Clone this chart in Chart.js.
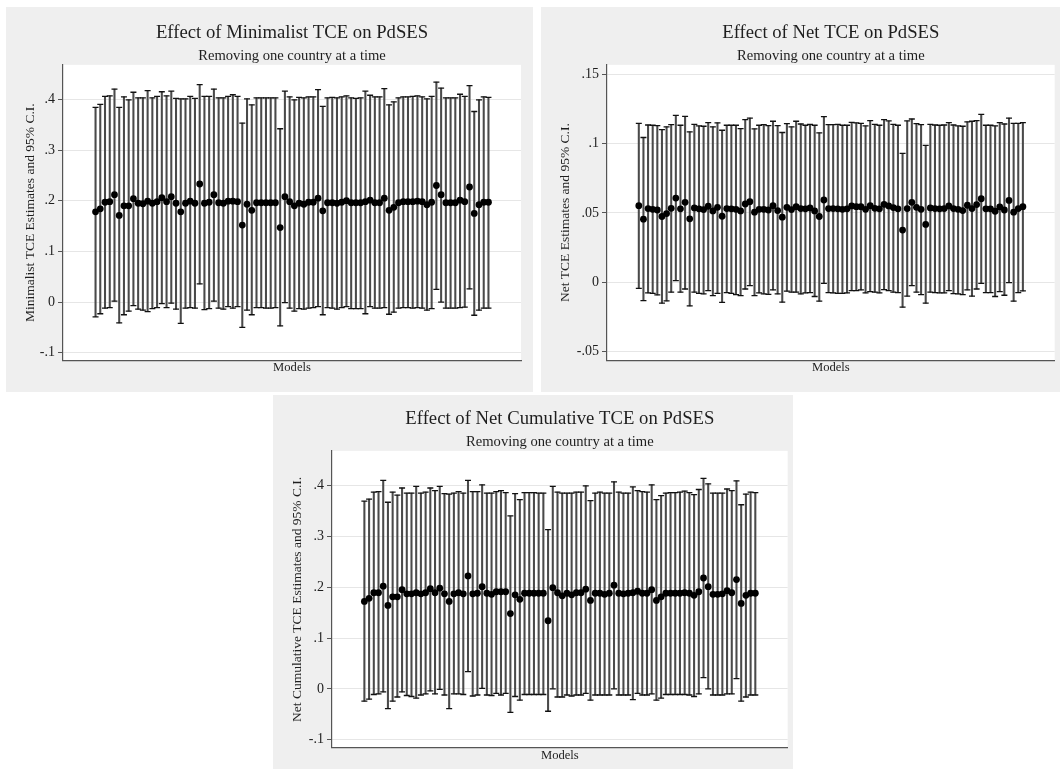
<!DOCTYPE html>
<html>
<head>
<meta charset="utf-8">
<script src="https://cdn.jsdelivr.net/npm/chart.js@4.4.1/dist/chart.umd.min.js"></script>
<style>
  html, body { margin: 0; padding: 0; background: #fff; }
  body { width: 1060px; height: 772px; position: relative; overflow: hidden; }
  .panel { position: absolute; background: #efefef; }
  .panel canvas { display: block; }
</style>
</head>
<body>
<div class="panel" style="left:6px;top:7px;width:527px;height:385px"><canvas id="minChart" width="527" height="385"></canvas></div>
<div class="panel" style="left:541px;top:7px;width:519px;height:385px"><canvas id="netChart" width="519" height="385"></canvas></div>
<div class="panel" style="left:273px;top:395px;width:520px;height:374px"><canvas id="cumChart" width="520" height="374"></canvas></div>
<script>
// leave-one-country-out estimates, 84 models per outcome
const minMean = [.178,.184,.197,.198,.212,.171,.190,.190,.204,.195,.194,.199,.195,.198,.206,.198,.208,.195,.178,.195,.199,.195,.233,.195,.197,.212,.196,.195,.199,.199,.198,.152,.193,.181,.196,.196,.196,.196,.196,.147,.208,.198,.190,.195,.193,.197,.197,.205,.180,.196,.196,.195,.197,.200,.196,.196,.196,.198,.201,.196,.196,.205,.181,.187,.196,.198,.198,.198,.199,.198,.192,.197,.230,.212,.196,.196,.196,.201,.198,.227,.175,.192,.197,.197];
const minLo = [-.029,-.023,-.012,-.011,.002,-.041,-.025,-.018,-.007,-.014,-.016,-.019,-.013,-.011,-.003,-.011,-.002,-.014,-.042,-.012,-.011,-.012,.036,-.015,-.013,.002,-.012,-.014,-.009,-.012,-.009,-.050,-.016,-.025,-.011,-.011,-.012,-.012,-.011,-.047,-.001,-.012,-.018,-.013,-.014,-.012,-.011,-.009,-.025,-.011,-.012,-.014,-.011,-.009,-.013,-.013,-.013,-.023,-.009,-.012,-.012,-.011,-.024,-.020,-.012,-.011,-.011,-.012,-.011,-.012,-.016,-.013,.025,.000,-.012,-.012,-.012,-.011,-.010,.026,-.026,-.016,-.012,-.012];
const minHi = [.384,.390,.406,.407,.420,.384,.405,.399,.414,.403,.403,.417,.403,.406,.415,.407,.416,.402,.401,.401,.406,.402,.429,.406,.406,.420,.403,.403,.406,.409,.406,.353,.401,.389,.403,.403,.403,.403,.403,.342,.416,.405,.399,.404,.403,.405,.405,.419,.386,.403,.404,.403,.405,.407,.403,.402,.403,.416,.408,.405,.405,.421,.389,.395,.403,.405,.405,.406,.407,.405,.401,.406,.434,.422,.403,.403,.403,.410,.406,.427,.376,.399,.405,.404];

const netMean = [.0552,.0455,.0531,.0526,.0521,.0474,.0495,.0533,.0607,.0529,.0576,.0457,.0536,.0529,.0524,.0548,.0514,.0540,.0476,.0531,.0529,.0526,.0514,.0564,.0581,.0505,.0526,.0526,.0521,.0552,.0517,.0469,.0540,.0524,.0545,.0531,.0529,.0536,.0514,.0474,.0593,.0531,.0531,.0529,.0526,.0529,.0550,.0545,.0545,.0526,.0552,.0533,.0529,.0562,.0550,.0538,.0529,.0376,.0531,.0576,.0540,.0526,.0417,.0536,.0531,.0529,.0531,.0550,.0531,.0526,.0517,.0555,.0531,.0560,.0602,.0529,.0529,.0512,.0543,.0521,.0590,.0505,.0531,.0545];
const netLo = [-.0043,-.0131,-.0076,-.0079,-.0090,-.0150,-.0133,-.0071,.0012,-.0071,-.0048,-.0169,-.0071,-.0079,-.0083,-.0060,-.0095,-.0079,-.0145,-.0074,-.0079,-.0088,-.0095,-.0048,-.0024,-.0095,-.0076,-.0083,-.0086,-.0055,-.0083,-.0143,-.0064,-.0071,-.0071,-.0083,-.0076,-.0074,-.0102,-.0136,-.0007,-.0074,-.0076,-.0079,-.0079,-.0076,-.0060,-.0060,-.0055,-.0076,-.0067,-.0071,-.0076,-.0052,-.0060,-.0071,-.0074,-.0179,-.0100,-.0024,-.0071,-.0088,-.0150,-.0071,-.0074,-.0076,-.0076,-.0060,-.0081,-.0083,-.0088,-.0055,-.0100,-.0048,-.0007,-.0074,-.0074,-.0102,-.0067,-.0093,-.0002,-.0136,-.0074,-.0062];
const netHi = [.1145,.1043,.1133,.1131,.1129,.1100,.1119,.1136,.1202,.1131,.1195,.1083,.1138,.1126,.1124,.1150,.1119,.1148,.1095,.1131,.1131,.1131,.1107,.1171,.1183,.1105,.1131,.1136,.1129,.1160,.1129,.1079,.1143,.1119,.1160,.1140,.1131,.1138,.1131,.1076,.1193,.1136,.1136,.1138,.1131,.1131,.1152,.1148,.1145,.1126,.1164,.1138,.1131,.1171,.1162,.1138,.1131,.0929,.1162,.1176,.1143,.1136,.0986,.1138,.1133,.1131,.1133,.1150,.1133,.1126,.1124,.1155,.1160,.1164,.1210,.1131,.1131,.1126,.1150,.1140,.1183,.1145,.1145,.1150];

const cumMean = [.172,.178,.189,.189,.202,.164,.181,.181,.195,.187,.187,.189,.187,.189,.197,.189,.198,.187,.172,.187,.189,.187,.222,.187,.188,.201,.188,.186,.191,.191,.191,.148,.185,.176,.188,.188,.188,.188,.188,.134,.199,.189,.183,.188,.185,.189,.189,.196,.174,.188,.188,.186,.188,.204,.188,.187,.188,.189,.192,.188,.188,.195,.174,.181,.188,.188,.188,.188,.189,.188,.184,.191,.218,.201,.186,.186,.187,.193,.189,.215,.168,.184,.188,.188];
const cumLo = [-.024,-.020,-.011,-.010,-.006,-.039,-.024,-.016,-.006,-.013,-.015,-.018,-.012,-.010,-.004,-.010,-.001,-.012,-.039,-.010,-.010,-.011,.034,-.014,-.012,.001,-.012,-.013,-.009,-.012,-.009,-.046,-.015,-.022,-.011,-.011,-.011,-.011,-.011,-.044,.000,-.016,-.016,-.012,-.014,-.012,-.012,-.009,-.022,-.012,-.012,-.012,-.012,.000,-.012,-.012,-.012,-.021,-.009,-.012,-.012,-.010,-.022,-.018,-.011,-.011,-.011,-.011,-.011,-.012,-.015,-.010,.022,.000,-.012,-.012,-.012,-.010,-.010,.020,-.024,-.016,-.012,-.012];
const cumHi = [.369,.373,.387,.388,.410,.367,.387,.381,.395,.385,.385,.398,.385,.387,.395,.390,.398,.384,.383,.385,.388,.385,.410,.388,.388,.401,.385,.385,.388,.390,.386,.340,.384,.372,.386,.386,.386,.385,.385,.313,.398,.387,.385,.385,.385,.387,.387,.399,.370,.385,.387,.385,.385,.407,.387,.385,.385,.397,.390,.388,.387,.401,.372,.380,.385,.386,.386,.387,.389,.386,.382,.392,.414,.403,.385,.385,.385,.393,.390,.409,.362,.383,.387,.386];

const minTicks = [-.1, 0, .1, .2, .3, .4];
const netTicks = [-.05, 0, .05, .1, .15];
const cumTicks = [-.1, 0, .1, .2, .3, .4];

const serif = 'Liberation Serif';
const ink = '#1e1e1e';

// Stata style labels: ".4", "-.1", "0"
const fmt = v => v === 0 ? '0' : String(+v.toFixed(3)).replace('0.', '.');

// white inner plot region on the grey graph background
const plotBackground = {
  id: 'plotBackground',
  beforeDraw(chart) {
    const { ctx, chartArea: a } = chart;
    ctx.save();
    ctx.fillStyle = '#fff';
    ctx.fillRect(a.left, a.top, a.right - a.left, a.bottom - a.top);
    ctx.restore();
  }
};

function drawPanel(id, p) {
  const pts = arr => arr.map((v, i) => ({ x: i + 1, y: v }));
  const n = p.mean.length;
  new Chart(document.getElementById(id), {
    type: 'scatter',
    data: {
      datasets: [
        { data: pts(p.mean), pointRadius: 3.4, pointBackgroundColor: '#000', pointBorderWidth: 0, order: 0 },
        { data: pts(p.hi), pointStyle: 'line', pointRadius: 3, pointBorderColor: '#111', pointBorderWidth: 1.3, order: 1 },
        { data: pts(p.lo), pointStyle: 'line', pointRadius: 3, pointBorderColor: '#111', pointBorderWidth: 1.3, order: 1 },
        { type: 'bar', data: p.lo.map((v, i) => ({ x: i + 1, y: [v, p.hi[i]] })),
          backgroundColor: '#4a4a4a', barThickness: 1.4, borderWidth: 0, order: 2 }
      ]
    },
    options: {
      responsive: false,
      animation: false,
      events: [],
      layout: { padding: { left: 0, top: 0, right: p.padR, bottom: 0 } },
      plugins: {
        legend: { display: false },
        tooltip: { enabled: false },
        title: {
          display: true, text: p.title, fullSize: false, color: ink,
          font: { family: serif, size: 18.7, weight: 'normal' },
          padding: { top: p.titleTop, bottom: 0 }
        },
        subtitle: {
          display: true, text: 'Removing one country at a time', fullSize: false, color: ink,
          font: { family: serif, size: 14.6, weight: 'normal' },
          padding: { top: 3.1, bottom: 0 }
        }
      },
      scales: {
        x: {
          type: 'linear', min: 1 - 1.5, max: n + 1.5,
          ticks: { display: false },
          grid: { display: false, drawTicks: false },
          border: { color: '#555', width: 1.2 },
          title: {
            display: true, text: 'Models', color: ink,
            font: { family: serif, size: 12.6 },
            padding: { top: p.xtTop, bottom: p.xtBottom }
          }
        },
        y: {
          min: p.yMin, max: p.yMax,
          afterBuildTicks: s => { s.ticks = p.ticks.map(v => ({ value: v })); },
          afterFit: s => { s.width = p.axisW; },
          ticks: { callback: v => fmt(v), color: ink, padding: 3, font: { family: serif, size: 14 } },
          grid: { color: '#e6e6e6', lineWidth: 1, drawTicks: true, tickLength: 5, tickColor: '#555' },
          border: { color: '#555', width: 1.2 },
          title: {
            display: true, text: p.yTitle, color: ink,
            font: { family: serif, size: 13.5 },
            padding: { top: 15.9, bottom: 0 }
          }
        }
      }
    },
    plugins: [plotBackground]
  });
}

drawPanel('minChart', {
  title: 'Effect of Minimalist TCE on PdSES',
  yTitle: 'Minimalist TCE Estimates and 95% C.I.',
  mean: minMean, lo: minLo, hi: minHi, ticks: minTicks,
  yMin: -.115, yMax: .468,
  axisW: 57, padR: 12, titleTop: 14.8, xtTop: 0, xtBottom: 16.5
});

drawPanel('netChart', {
  title: 'Effect of Net TCE on PdSES',
  yTitle: 'Net TCE Estimates and 95% C.I.',
  mean: netMean, lo: netLo, hi: netHi, ticks: netTicks,
  yMin: -.0562, yMax: .1566,
  axisW: 66, padR: 3, titleTop: 14.8, xtTop: 0, xtBottom: 16.5
});

drawPanel('cumChart', {
  title: 'Effect of Net Cumulative TCE on PdSES',
  yTitle: 'Net Cumulative TCE Estimates and 95% C.I.',
  mean: cumMean, lo: cumLo, hi: cumHi, ticks: cumTicks,
  yMin: -.116, yMax: .468,
  axisW: 59, padR: 5, titleTop: 12.8, xtTop: 0.5, xtBottom: 5.5
});
</script>
</body>
</html>
